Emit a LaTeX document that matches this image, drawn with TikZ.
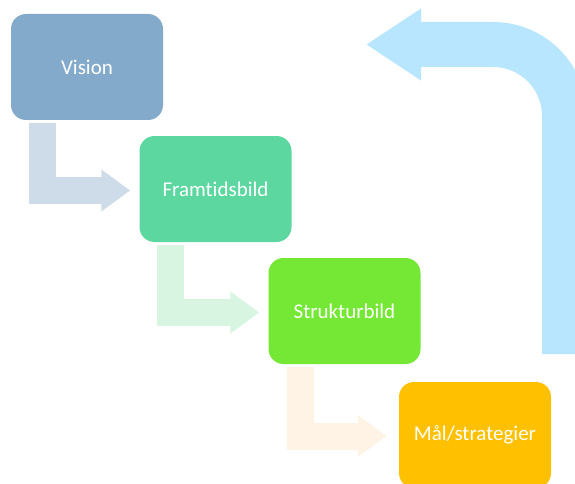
\documentclass[tikz,border=0pt]{standalone}
\usepackage{fontspec}
\setmainfont{Carlito}[Ligatures=NoCommon]
\usetikzlibrary{arrows.meta}
\definecolor{cvis}{HTML}{84AACB}
\definecolor{cfram}{HTML}{5DD7A0}
\definecolor{cstru}{HTML}{74E835}
\definecolor{cmal}{HTML}{FFC000}
\definecolor{carA}{HTML}{CEDBE8}
\definecolor{carB}{HTML}{D8F5E2}
\definecolor{carC}{HTML}{FFF3E6}
\definecolor{cbig}{HTML}{B8E6FF}
\tikzset{
  stagebox/.style={rounded corners=15pt, minimum width=152pt, minimum height=106pt,
    inner sep=0pt, text=white, font=\fontsize{21}{25}\selectfont},
  bentarrow/.style={line width=27pt, line join=miter, line cap=butt,
    -{Triangle[length=29pt,width=40pt]}},
  bigarrow/.style={line width=45pt, line cap=butt, draw=cbig,
    -{Triangle[length=55pt,width=68pt]}}
}
\begin{document}
\begin{tikzpicture}[x=1pt,y=-1pt]
\clip (0,0) rectangle (575,484);
\fill[white] (0,0) rectangle (575,484);
\node[stagebox, fill=cvis] (v) at (87,67) {Vision};
\node[stagebox, fill=cfram] (f) at (215.5,189) {Framtidsbild};
\node[stagebox, fill=cstru] (s) at (344.5,311) {Strukturbild};
\node[stagebox, fill=cmal] (m) at (475,435) {Mål/strategier};
\draw[bentarrow, draw=carA] ([xshift=31.5pt,yshift=-3pt]v.south west) |- ([xshift=-9pt,yshift=-1.5pt]f.west);
\draw[bentarrow, draw=carB] ([xshift=31.5pt,yshift=-3pt]f.south west) |- ([xshift=-9pt,yshift=-1.5pt]s.west);
\draw[bentarrow, draw=carC] ([xshift=32pt,yshift=-3pt]s.south west) |- ([xshift=-12pt,yshift=-1pt]m.west);
\coordinate (fbstart) at (564.5,354);
\coordinate (fbend) at (366,44.5);
\draw[bigarrow] (fbstart) -- (564.5,116) arc[start angle=0, end angle=-90, radius=71.5] -- (fbend);
\end{tikzpicture}
\end{document}
